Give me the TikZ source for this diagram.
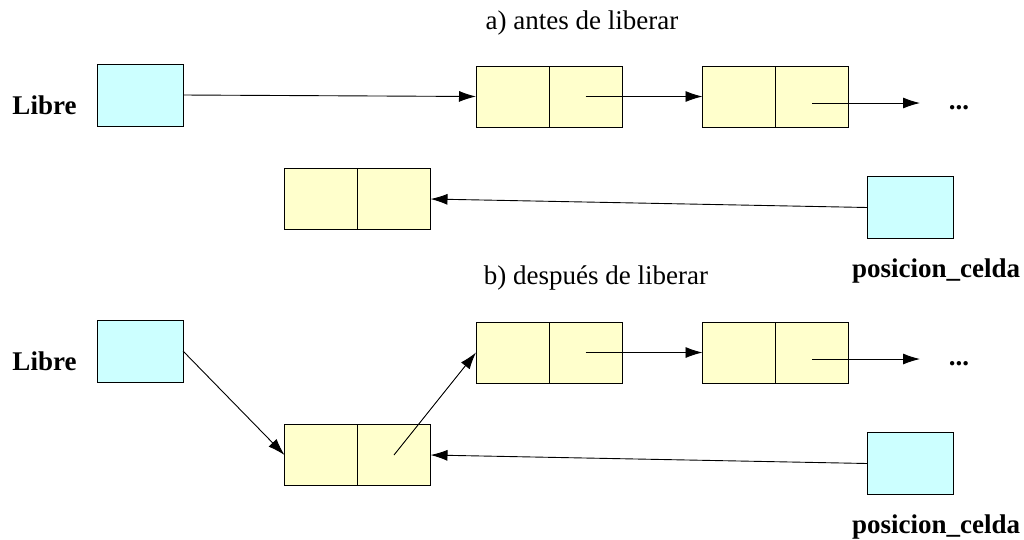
\documentclass[tikz,border=0pt]{standalone}
\usepackage{fontspec}
\setmainfont{Liberation Serif}
\usetikzlibrary{arrows.meta,calc}
\definecolor{cyanbox}{HTML}{CCFFFF}
\definecolor{yelbox}{HTML}{FFFFCC}
\begin{document}
\begin{tikzpicture}[x=1pt,y=-1pt,
  every node/.style={inner sep=0pt,outer sep=0pt},
  ptrbox/.style={draw=black,fill=cyanbox,line width=0.9pt,minimum width=86pt,minimum height=62pt},
  half/.style={draw=black,fill=yelbox,line width=0.9pt,minimum width=73pt,minimum height=61pt},
  lbl/.style={font=\fontsize{27}{32}\selectfont,anchor=base},
  blbl/.style={font=\fontsize{27}{32}\selectfont\bfseries,anchor=base},
  link/.style={draw=black,line width=0.9pt,-{Latex[length=17pt,width=11pt]}}
]
\useasboundingbox (0,0) rectangle (1024,539);

% ---------- a) antes de liberar ----------
\node[lbl] (ta) at (582,29) {a) antes de liberar};
\node[blbl] (lib1) at (44.5,114) {Libre};
\node[ptrbox] (A1) at (140,95) {};
\node[half] (L1a) at (512.5,96.5) {};
\node[half,anchor=west] (L1b) at (L1a.east) {};
\node[half] (L2a) at (739,96.5) {};
\node[half,anchor=west] (L2b) at (L2a.east) {};
\node[blbl] (d1) at (959,109) {...};
\coordinate (e1) at (920,103);
\node[half] (Ma) at (321,199) {};
\node[half,anchor=west] (Mb) at (Ma.east) {};
\node[ptrbox] (P1) at (910.5,207.5) {};
\node[blbl] (pc1) at (936,277) {posicion\_celda};

\draw[link] (A1.east) -- (L1a.west);
\draw[link] (L1b.center) -- (L2a.west);
\draw[link] ($(L2b.center)+(0,6.5)$) -- (e1);
\draw[link] (P1.west) -- (Mb.east);

% ---------- b) despues de liberar ----------
\node[lbl] (tb) at (596,284) {b) después de liberar};
\node[blbl] (lib2) at (44.5,370) {Libre};
\node[ptrbox] (A2) at (140,351) {};
\node[half] (N1a) at (512.5,352.5) {};
\node[half,anchor=west] (N1b) at (N1a.east) {};
\node[half] (N2a) at (739,352.5) {};
\node[half,anchor=west] (N2b) at (N2a.east) {};
\node[blbl] (d2) at (959,365) {...};
\coordinate (e2) at (920,359);
\node[half] (Ka) at (321,455) {};
\node[half,anchor=west] (Kb) at (Ka.east) {};
\node[ptrbox] (P2) at (910.5,463.5) {};
\node[blbl] (pc2) at (936,533) {posicion\_celda};

\draw[link] (A2.east) -- (Ka.west);
\draw[link] (Kb.center) -- (N1a.west);
\draw[link] (N1b.center) -- (N2a.west);
\draw[link] ($(N2b.center)+(0,6.5)$) -- (e2);
\draw[link] (P2.west) -- (Kb.east);
\end{tikzpicture}
\end{document}
